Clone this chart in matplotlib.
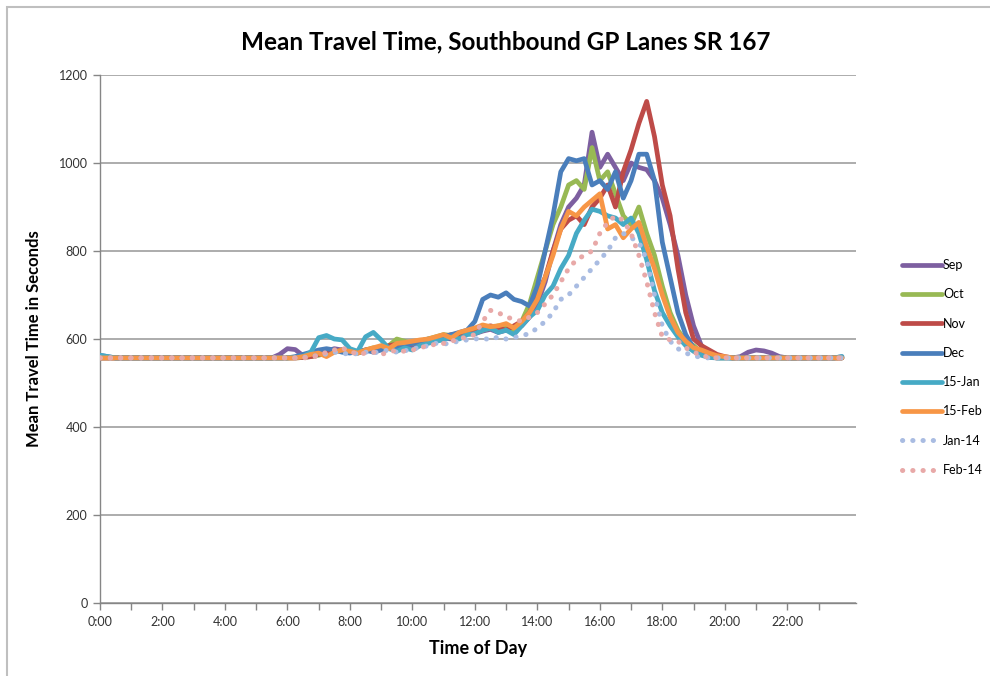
import matplotlib

matplotlib.use("Agg")
import matplotlib.pyplot as plt
import numpy as np
from matplotlib.patches import Rectangle
from matplotlib.ticker import FixedLocator

plt.rcParams["font.family"] = ["Lato", "DejaVu Sans"]

# 15-minute samples, 0:00 .. 23:45 (8 values = 2 hours per row)
SEP = [
    557, 557, 557, 557, 557, 557, 557, 557,
    557, 557, 557, 557, 557, 557, 557, 557,
    557, 557, 557, 557, 557, 557, 557, 565,
    578, 576, 562, 560, 565, 572, 578, 575,
    570, 568, 572, 575, 578, 582, 585, 580,
    585, 592, 595, 598, 602, 600, 608, 615,
    612, 618, 622, 615, 620, 625, 630, 650,
    680, 730, 800, 860, 900, 920, 950, 1070,
    990, 1020, 990, 960, 1000, 990, 985, 960,
    920, 860, 790, 700, 630, 585, 565, 560,
    558, 557, 560, 570, 575, 573, 568, 560,
    557, 557, 557, 557, 557, 557, 557, 557,
]
OCT = [
    557, 557, 557, 557, 557, 557, 557, 557,
    557, 557, 557, 557, 557, 557, 557, 557,
    557, 557, 557, 557, 557, 557, 557, 557,
    557, 557, 558, 560, 563, 568, 572, 575,
    570, 568, 575, 580, 578, 585, 600, 595,
    590, 595, 600, 605, 610, 608, 612, 618,
    615, 620, 625, 630, 625, 620, 640, 680,
    740, 800, 860, 900, 950, 960, 940, 1035,
    960, 980, 930, 880, 860, 900, 840, 790,
    720, 660, 620, 595, 585, 570, 562, 557,
    557, 557, 557, 557, 557, 557, 557, 557,
    557, 557, 557, 557, 557, 557, 557, 557,
]
NOV = [
    557, 557, 557, 557, 557, 557, 557, 557,
    557, 557, 557, 557, 557, 557, 557, 557,
    557, 557, 557, 557, 557, 557, 557, 557,
    557, 557, 558, 560, 565, 570, 572, 575,
    572, 570, 575, 578, 580, 585, 588, 590,
    592, 595, 598, 600, 605, 610, 612, 618,
    620, 625, 630, 625, 620, 630, 640, 660,
    700, 740, 800, 850, 870, 880, 860, 900,
    920, 950, 900, 980, 1030, 1090, 1140, 1060,
    950, 880, 760, 660, 600, 585, 575, 565,
    560, 557, 557, 557, 557, 557, 557, 557,
    557, 557, 557, 557, 557, 557, 557, 557,
]
DEC = [
    563, 560, 557, 557, 557, 557, 557, 557,
    557, 557, 557, 557, 557, 557, 557, 557,
    557, 557, 557, 557, 557, 557, 557, 557,
    557, 560, 565, 570, 575, 578, 575, 570,
    568, 572, 575, 570, 575, 580, 578, 585,
    590, 595, 600, 598, 605, 610, 615, 620,
    640, 690, 700, 695, 705, 690, 685, 675,
    720, 800, 880, 980, 1010, 1005, 1010, 950,
    960, 940, 980, 920, 960, 1020, 1020, 960,
    820, 740, 660, 610, 580, 565, 560, 557,
    557, 557, 557, 557, 557, 557, 557, 557,
    557, 557, 557, 557, 557, 557, 557, 560,
]
JAN15 = [
    563, 560, 557, 557, 557, 557, 557, 557,
    557, 557, 557, 557, 557, 557, 557, 557,
    557, 557, 557, 557, 557, 557, 557, 557,
    557, 558, 560, 570, 603, 608, 600, 598,
    578, 572, 605, 615, 598, 578, 572, 580,
    575, 585, 590, 595, 598, 605, 600, 610,
    612, 620, 625, 615, 620, 610, 630, 650,
    665, 700, 720, 760, 790, 840, 870, 895,
    890, 880, 875, 860, 875, 840, 780, 710,
    660, 630, 605, 585, 572, 563, 558, 557,
    557, 557, 557, 557, 557, 557, 557, 557,
    557, 557, 557, 557, 557, 557, 557, 560,
]
FEB15 = [
    557, 557, 557, 557, 557, 557, 557, 557,
    557, 557, 557, 557, 557, 557, 557, 557,
    557, 557, 557, 557, 557, 557, 557, 557,
    557, 557, 560, 565, 568, 560, 570, 575,
    572, 568, 575, 580, 585, 578, 590, 592,
    595, 598, 600, 605, 610, 602, 615, 620,
    625, 632, 628, 630, 635, 625, 640, 660,
    690, 740, 790, 850, 890, 880, 900, 915,
    930, 850, 860, 830, 850, 865, 810, 760,
    700, 650, 615, 595, 580, 575, 568, 562,
    560, 557, 557, 557, 557, 557, 557, 557,
    557, 557, 557, 557, 557, 557, 557, 557,
]
JAN14 = [
    557, 557, 557, 557, 557, 557, 557, 557,
    557, 557, 557, 557, 557, 557, 557, 557,
    557, 557, 557, 557, 557, 557, 557, 557,
    557, 557, 558, 560, 563, 566, 570, 568,
    565, 567, 570, 568, 572, 575, 570, 573,
    578, 580, 585, 590, 588, 592, 595, 598,
    600, 602, 598, 605, 600, 603, 608, 612,
    625, 640, 660, 690, 700, 720, 740, 760,
    780, 800, 830, 840, 830, 820, 780, 700,
    630, 595, 578, 568, 562, 558, 557, 557,
    557, 557, 557, 557, 557, 557, 557, 557,
    557, 557, 557, 557, 557, 557, 557, 557,
]
FEB14 = [
    557, 557, 557, 557, 557, 557, 557, 557,
    557, 557, 557, 557, 557, 557, 557, 557,
    557, 557, 557, 557, 557, 557, 557, 557,
    557, 557, 557, 558, 562, 570, 575, 580,
    572, 565, 568, 570, 565, 570, 575, 572,
    575, 580, 585, 588, 590, 595, 600, 605,
    610, 640, 665, 660, 650, 645, 640, 650,
    660, 680, 700, 730, 760, 780, 790, 800,
    840, 865, 880, 870, 840, 790, 730, 660,
    605, 598, 595, 580, 570, 563, 558, 557,
    557, 557, 557, 557, 557, 557, 557, 557,
    557, 557, 557, 557, 557, 557, 557, 557,
]

LABELS = ["Sep", "Oct", "Nov", "Dec", "15-Jan", "15-Feb", "Jan-14", "Feb-14"]
SERIES = [SEP, OCT, NOV, DEC, JAN15, FEB15, JAN14, FEB14]
COLORS = ["#7D5FA0", "#98B954", "#BE4B48", "#4A7EBB", "#46AAC5", "#F79646",
          "#A9BCE2", "#E8A9A8"]
DOTTED = [False] * 6 + [True] * 2

HOUR_LABELS = [f"{h}:00" for h in range(0, 24, 2)]

GRID = "#A6A6A6"
AXIS = "#868686"

fig = plt.figure(figsize=(9.9, 6.76), dpi=100)
ax = fig.add_axes([100 / 990, 1 - 603 / 676, 756 / 990, 528 / 676])

# later series are drawn on top, as in the original workbook
for idx, (vals, label, color, dotted) in enumerate(zip(SERIES, LABELS, COLORS, DOTTED)):
    x = np.arange(len(vals)) * 0.25
    if dotted:
        ax.plot(x, vals, color=color, lw=3.6, ls=(0, (0.05, 2.0)),
                dash_capstyle="round", label=label, zorder=2 + idx)
    else:
        ax.plot(x, vals, color=color, lw=3.4, solid_capstyle="round",
                solid_joinstyle="round", label=label, zorder=2 + idx)

ax.set_xlim(0, 24.2)
ax.set_ylim(0, 1200)
ax.set_yticks(range(0, 1201, 200))
ax.xaxis.set_major_locator(FixedLocator(range(0, 24, 2)))
ax.xaxis.set_minor_locator(FixedLocator(range(1, 25, 2)))
ax.set_xticklabels(HOUR_LABELS)

ax.grid(axis="y", color=GRID, lw=1.3)
ax.set_axisbelow(True)
for side in ["top", "right"]:
    ax.spines[side].set_visible(False)
for side in ["left", "bottom"]:
    ax.spines[side].set_color(AXIS)
    ax.spines[side].set_lw(1.0)

ax.tick_params(axis="both", which="both", direction="out", color=AXIS,
               length=5, width=1, labelsize=9, labelcolor="#333333", pad=4)

# title is centred on the whole chart area (plot + legend), not on the axes
fig.text(506 / 990, 1 - 42 / 676, "Mean Travel Time, Southbound GP Lanes SR 167",
         ha="center", va="center", fontsize=17.5, fontweight="bold")
ax.set_xlabel("Time of Day", fontsize=13, fontweight="bold", labelpad=9)
ax.set_ylabel("Mean Travel Time in Seconds", fontsize=12, fontweight="bold",
              labelpad=12)

ax.legend(loc="center left", bbox_to_anchor=(1.054, 0.446), frameon=False,
          fontsize=9, handlelength=3.2, handletextpad=0.1, labelspacing=1.38,
          borderaxespad=0)

fig.add_artist(Rectangle((7 / 990, -0.1), 1.2, 1 - 7 / 676 + 0.1,
                         transform=fig.transFigure, fill=False,
                         ec="#BFBFBF", lw=1.5))

fig.savefig("out.png", dpi=100)
